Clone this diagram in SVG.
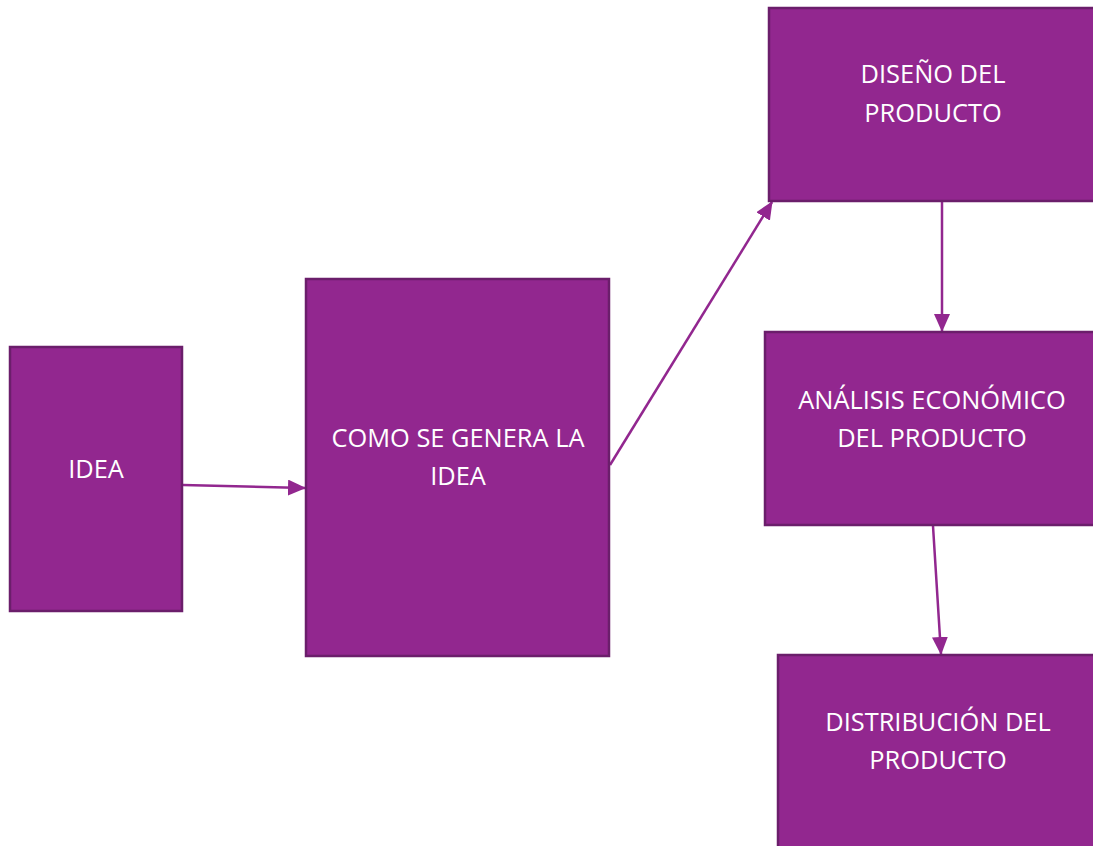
<svg xmlns="http://www.w3.org/2000/svg" width="1093" height="846" viewBox="0 0 1093 846">
<defs>
<style>
.box{fill:#92278F;stroke:#6B1E6B;stroke-width:2.5}
.lbl{font-family:"Open Sans","Noto Sans",sans-serif;font-size:25.4px;fill:#FFFFFF;text-anchor:middle}
.con{stroke:#92278F;stroke-width:2.5;fill:none;marker-end:url(#ah)}
</style>
<marker id="ah" markerUnits="userSpaceOnUse" markerWidth="18" markerHeight="16" refX="17" refY="8" orient="auto">
<path d="M0,0 L18,8 L0,16 Z" fill="#92278F"/>
</marker>
</defs>
<rect width="1093" height="846" fill="#FFFFFF"/>
<g id="connectors">
<line class="con" x1="183" y1="485" x2="305" y2="488"/>
<line class="con" x1="610" y1="465" x2="772" y2="202"/>
<line class="con" x1="942" y1="202" x2="942" y2="331"/>
<line class="con" x1="933" y1="526" x2="941" y2="654"/>
</g>
<g id="idea">
<rect class="box" x="10" y="347" width="172" height="264"/>
<text class="lbl" x="96" y="478">IDEA</text>
</g>
<g id="como">
<rect class="box" x="306" y="279" width="303" height="377"/>
<text class="lbl" x="458" y="447">COMO SE GENERA LA</text>
<text class="lbl" x="458" y="485">IDEA</text>
</g>
<g id="diseno">
<rect class="box" x="769" y="8" width="330" height="193"/>
<text class="lbl" x="933" y="83">DISEÑO DEL</text>
<text class="lbl" x="933" y="122">PRODUCTO</text>
</g>
<g id="analisis">
<rect class="box" x="765" y="332" width="334" height="193"/>
<text class="lbl" x="932" y="409">ANÁLISIS ECONÓMICO</text>
<text class="lbl" x="932" y="447">DEL PRODUCTO</text>
</g>
<g id="distribucion">
<rect class="box" x="778" y="655" width="321" height="200"/>
<text class="lbl" x="938" y="731">DISTRIBUCIÓN DEL</text>
<text class="lbl" x="938" y="769">PRODUCTO</text>
</g>
</svg>
